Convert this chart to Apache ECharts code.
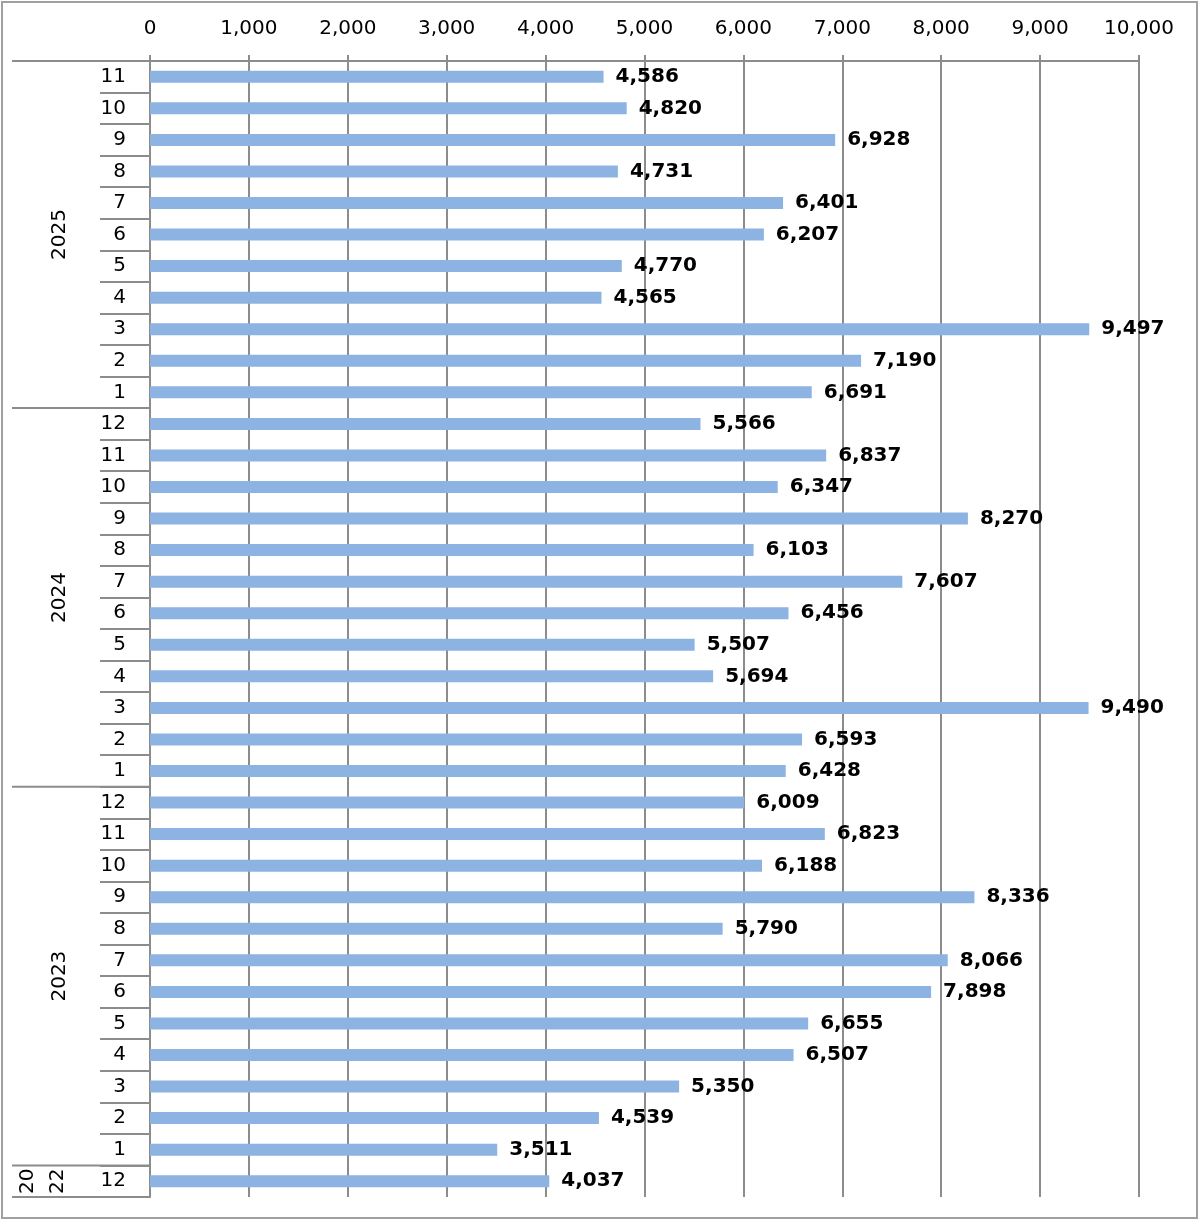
<!DOCTYPE html>
<html>
<head>
<meta charset="utf-8">
<script src="https://cdn.jsdelivr.net/npm/echarts@6/dist/echarts.min.js"></script>
<style>
html,body{margin:0;padding:0;background:#fff;}
#chart{width:1200px;height:1222px;}
</style>
</head>
<body>
<div id="chart"></div>
<script>
// Data, top-to-bottom as displayed
const years = ['2025', '2024', '2023', '2022'];
const yearLabels = ['2025', '2024', '2023', '20\n22'];
const months2025 = ['11','10','9','8','7','6','5','4','3','2','1'];
const values2025 = [4586, 4820, 6928, 4731, 6401, 6207, 4770, 4565, 9497, 7190, 6691];
const months2024 = ['12','11','10','9','8','7','6','5','4','3','2','1'];
const values2024 = [5566, 6837, 6347, 8270, 6103, 7607, 6456, 5507, 5694, 9490, 6593, 6428];
const months2023 = ['12','11','10','9','8','7','6','5','4','3','2','1'];
const values2023 = [6009, 6823, 6188, 8336, 5790, 8066, 7898, 6655, 6507, 5350, 4539, 3511];
const months2022 = ['12'];
const values2022 = [4037];
const xTicks = [0, 1000, 2000, 3000, 4000, 5000, 6000, 7000, 8000, 9000, 10000];

const monthGroups = [months2025, months2024, months2023, months2022];
const valueGroups = [values2025, values2024, values2023, values2022];

const categories = [];
const values = [];
const yearSpans = [];
monthGroups.forEach((ms, gi) => {
  const start = categories.length;
  ms.forEach((m, i) => { categories.push(m); values.push(valueGroups[gi][i]); });
  yearSpans.push([0, start, categories.length - 1, gi]);
});

const gray = '#8c8c8c';
const font = '"DejaVu Sans", Verdana, sans-serif';
const fmt = v => v.toLocaleString('en-US');

const chart = echarts.init(document.getElementById('chart'));
chart.setOption({
  animation: false,
  backgroundColor: '#fff',
  grid: { left: 150, right: 61, top: 61, bottom: 25, containLabel: false },
  graphic: [{
    type: 'rect', shape: { x: 2, y: 2, width: 1195, height: 1216 },
    style: { fill: 'none', stroke: '#a0a0a0', lineWidth: 2 }, silent: true
  }],
  xAxis: {
    type: 'value', position: 'top', min: xTicks[0], max: xTicks[xTicks.length - 1], interval: 1000,
    axisLine: { show: true, lineStyle: { color: gray, width: 2 } },
    axisTick: { show: true, length: 6, lineStyle: { color: gray, width: 2 } },
    splitLine: { show: true, lineStyle: { color: gray, width: 2 } },
    axisLabel: { color: '#000', fontSize: 20, fontFamily: font, margin: 22, formatter: v => fmt(v) }
  },
  yAxis: {
    type: 'category', inverse: true, data: categories,
    axisLine: { show: true, lineStyle: { color: gray, width: 2 } },
    axisTick: { show: true, length: 50, interval: 0, lineStyle: { color: gray, width: 2 } },
    axisLabel: { color: '#000', fontSize: 20, fontFamily: font, margin: 24, interval: 0 },
    splitLine: { show: false }
  },
  series: [{
    type: 'bar', data: values, barWidth: 12,
    itemStyle: { color: '#8db3e2' },
    label: {
      show: true, position: 'right', distance: 12, color: '#000', fontWeight: 'bold',
      fontSize: 20, fontFamily: font, formatter: p => fmt(p.value)
    }
  }, {
    type: 'custom', data: yearSpans, clip: false, silent: true,
    encode: { x: 0, y: 1 },
    renderItem: (params, api) => {
      const start = api.value(1), end = api.value(2), gi = api.value(3);
      const band = api.size([0, 1])[1];
      const pStart = api.coord([0, start]);
      const pEnd = api.coord([0, end]);
      const top = pStart[1] - band / 2;
      const bottom = pEnd[1] + band / 2;
      const x0 = pStart[0];
      const children = [
        { type: 'line', shape: { x1: 12, y1: top, x2: x0, y2: top }, style: { stroke: gray, lineWidth: 2 } },
        { type: 'text', x: gi === 3 ? 43 : 60, y: (top + bottom) / 2, rotation: Math.PI / 2,
          style: { text: yearLabels[gi], font: '20px ' + font, fill: '#000', align: 'center', verticalAlign: 'middle', lineHeight: 30 } }
      ];
      if (gi === yearSpans.length - 1) {
        children.push({ type: 'line', shape: { x1: 12, y1: bottom, x2: x0, y2: bottom }, style: { stroke: gray, lineWidth: 2 } });
      }
      return { type: 'group', children };
    }
  }]
});
</script>
</body>
</html>
